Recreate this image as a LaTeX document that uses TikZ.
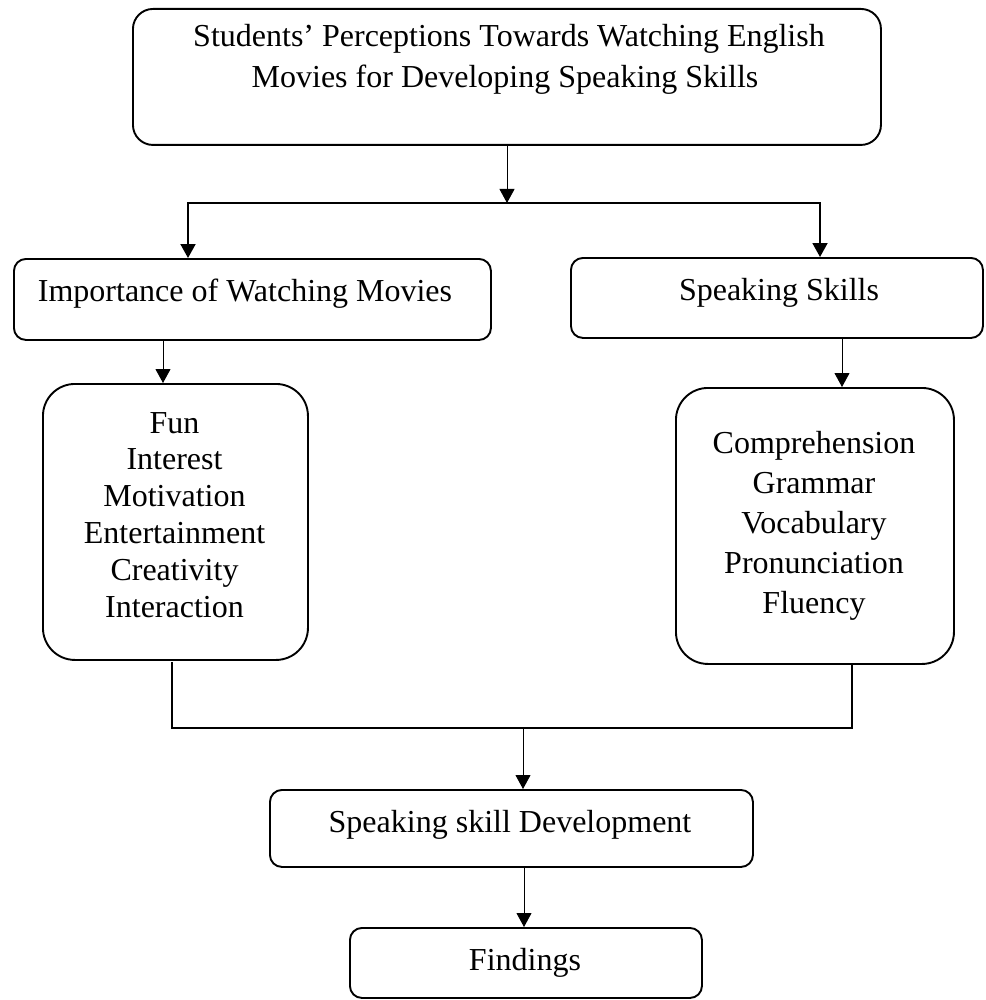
\documentclass[tikz,border=0pt]{standalone}
\usepackage{fontspec}
\setmainfont{Liberation Serif}
\usetikzlibrary{arrows.meta}
\tikzset{
  box/.style={draw, line width=1.9pt, rounded corners=#1, inner sep=0pt, anchor=north west},
  lbl/.style={inner sep=0pt, anchor=base, font=\fontsize{32}{38}\selectfont},
  conn/.style={line width=1.9pt},
  thinarr/.style={line width=0.9pt, -{Triangle[length=14pt,width=15pt]}},
  tip/.style={{Triangle[length=14pt,width=15pt]}-{Triangle[length=14pt,width=15pt]}}
}
\begin{document}
\begin{tikzpicture}[x=1pt,y=-1pt]
\useasboundingbox[fill=white] (0,0) rectangle (985,1000);

% boxes
\node[box=20pt, minimum width=748pt, minimum height=136pt] (top) at (132,8) {};
\node[box=12pt, minimum width=477pt, minimum height=81pt] (imp) at (13,258) {};
\node[box=12pt, minimum width=412pt, minimum height=80pt] (spk) at (570,257) {};
\node[box=32pt, minimum width=265pt, minimum height=276pt] (fun) at (42,383) {};
\node[box=32pt, minimum width=278pt, minimum height=276pt] (skl) at (675,387) {};
\node[box=12pt, minimum width=483pt, minimum height=77pt] (ssd) at (269,789) {};
\node[box=12pt, minimum width=352pt, minimum height=70pt] (find) at (349,927) {};

% texts
\node[lbl] (tl1) at (509,47) {Students’ Perceptions Towards Watching English};
\node[lbl] (tl2) at (505,88) {Movies for Developing Speaking Skills};
\node[lbl] (impt) at (245,301) {Importance of Watching Movies};
\node[lbl] (spkt) at (779,300) {Speaking Skills};
\foreach \t [count=\i] in {Fun,Interest,Motivation,Entertainment,Creativity,Interaction}
  \node[lbl] (fl\i) at (174.5,{433+36.8*(\i-1)}) {\t};
\foreach \t [count=\i] in {Comprehension,Grammar,Vocabulary,Pronunciation,Fluency}
  \node[lbl] (sl\i) at (814,{453+40*(\i-1)}) {\t};
\node[lbl] (ssdt) at (510,832) {Speaking skill Development};
\node[lbl] (findt) at (525,970) {Findings};

% connectors
\coordinate (hl) at (188,203);
\coordinate (hr) at (820,203);
\coordinate (hm) at (507,203);
\draw[thinarr] (top.south -| hm) -- (hm);
\draw[conn,tip] (hl |- imp.north) -- (hl) -- (hr) -- (hr |- spk.north);

\coordinate (a1) at (163,0);
\coordinate (a2) at (842,0);
\draw[thinarr] (imp.south -| a1) -- (fun.north -| a1);
\draw[thinarr] (spk.south -| a2) -- (skl.north -| a2);

\coordinate (b1) at (172,728);
\coordinate (b2) at (852,728);
\coordinate (bm) at (523,728);
\draw[conn] (172,662) -- (b1) -- (b2) -- (852,663);
\draw[thinarr] (bm) -- (ssd.north -| bm);

\coordinate (c1) at (524,0);
\draw[thinarr] (ssd.south -| c1) -- (find.north -| c1);
\end{tikzpicture}
\end{document}
